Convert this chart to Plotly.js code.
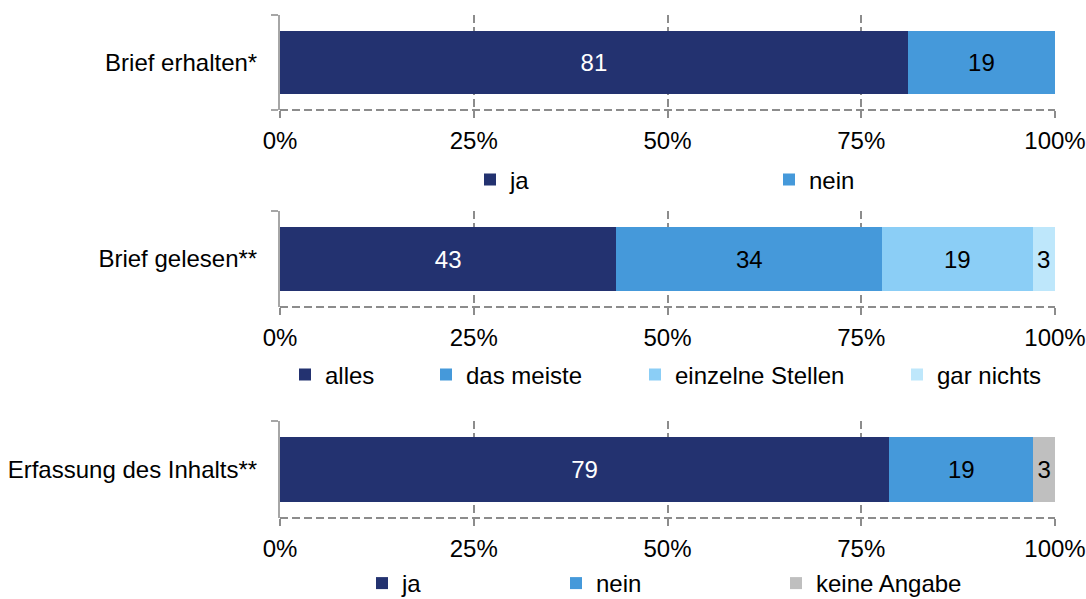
<!DOCTYPE html>
<html>
<head>
<meta charset="utf-8">
<script src="https://cdn.plot.ly/plotly-3.0.1.min.js"></script>
<style>html,body{margin:0;padding:0;background:#fff;}#chart{width:1086px;height:599px;}</style>
</head>
<body>
<div id="chart"></div>
<script>
// ---- data ----
const cat1 = ['Brief erhalten*'];
const names1 = ['ja', 'nein'];
const values1 = [81, 19];
const colors1 = ['#233270', '#4599DA'];

const cat2 = ['Brief gelesen**'];
const names2 = ['alles', 'das meiste', 'einzelne Stellen', 'gar nichts'];
const values2 = [43.4, 34.3, 19.4, 2.9];
const colors2 = ['#233270', '#4599DA', '#8BCEF6', '#BEE7FB'];

const cat3 = ['Erfassung des Inhalts**'];
const names3 = ['ja', 'nein', 'keine Angabe'];
const values3 = [78.6, 18.6, 2.8];
const colors3 = ['#233270', '#4599DA', '#BFBFBF'];

const tickVals = [0, 25, 50, 75, 100];
const tickLabels = ['0%', '25%', '50%', '75%', '100%'];

// legend text start positions (px) and row placement (px)
const W = 1086, H = 599;
const legendTextX = [[507, 806], [322, 463, 672, 934], [399, 593, 813]];
const legendRowY = [180, 375, null];
const lastRowBottomPx = 7;

const FONT = 'Liberation Sans, Arial, sans-serif';
const FS = 24;
const GRAY = '#8c8c8c';

const groups = [
  {cat: cat1, names: names1, values: values1, colors: colors1},
  {cat: cat2, names: names2, values: values2, colors: colors2},
  {cat: cat3, names: names3, values: values3, colors: colors3}
];
const yDomains = [[0.8164, 0.975], [0.4875, 0.6477], [0.1352, 0.2972]];
const xDomain = [280 / W, 1055 / W];

const traces = [];
const layout = {
  width: W, height: H,
  margin: {l: 0, r: 0, t: 0, b: 0, autoexpand: false},
  paper_bgcolor: '#fff', plot_bgcolor: 'rgba(0,0,0,0)',
  barmode: 'stack',
  font: {family: FONT, size: FS, color: '#000'},
  shapes: []
};

let legendIdx = 0;
groups.forEach((g, gi) => {
  const xa = gi === 0 ? 'x' : 'x' + (gi + 1);
  const ya = gi === 0 ? 'y' : 'y' + (gi + 1);
  const xKey = gi === 0 ? 'xaxis' : 'xaxis' + (gi + 1);
  const yKey = gi === 0 ? 'yaxis' : 'yaxis' + (gi + 1);
  g.names.forEach((n, i) => {
    legendIdx++;
    const lgKey = legendIdx === 1 ? 'legend' : 'legend' + legendIdx;
    traces.push({
      type: 'bar', orientation: 'h',
      x: [g.values[i]], y: g.cat, name: n,
      xaxis: xa, yaxis: ya,
      marker: {color: g.colors[i], line: {width: 0}},
      width: 0.67,
      texttemplate: '%{x:.0f}', textposition: 'inside', insidetextanchor: 'middle',
      textangle: 0, constraintext: 'none',
      insidetextfont: {family: FONT, size: FS, color: i === 0 ? '#ffffff' : '#000000'},
      hoverinfo: 'skip',
      legend: lgKey, showlegend: true
    });
    const rowY = legendRowY[gi];
    layout[lgKey] = {
      x: (legendTextX[gi][i] - 37) / W, xanchor: 'left',
      y: rowY === null ? -lastRowBottomPx / H : (H - rowY) / H,
      yanchor: rowY === null ? 'bottom' : 'middle',
      orientation: 'h', bgcolor: 'rgba(0,0,0,0)', borderwidth: 0,
      font: {family: FONT, size: FS, color: '#000'},
      itemclick: false, itemdoubleclick: false
    };
  });
  layout[xKey] = {
    domain: xDomain, anchor: ya, range: [0, 100],
    tickmode: 'array', tickvals: tickVals, ticktext: tickLabels,
    showgrid: true, gridcolor: GRAY, gridwidth: 2, griddash: '8px,4px',
    zeroline: false, showline: false,
    ticks: 'outside', ticklen: 7, tickwidth: 2, tickcolor: GRAY,
    tickfont: {family: FONT, size: FS, color: '#000'},
    ticklabelstandoff: 2,
    fixedrange: true
  };
  layout[yKey] = {
    domain: yDomains[gi], anchor: xa, type: 'category',
    showline: true, linecolor: '#a6a6a6', linewidth: 2,
    ticks: 'outside', tickson: 'boundaries', ticklen: 7, tickwidth: 2, tickcolor: '#a6a6a6',
    showgrid: false, zeroline: false,
    tickfont: {family: FONT, size: FS, color: '#000'},
    ticklabelstandoff: 16,
    fixedrange: true
  };
  layout.shapes.push({
    type: 'line', xref: xa + ' domain', yref: ya + ' domain',
    x0: 0, x1: 1, y0: 0, y1: 0,
    line: {color: GRAY, width: 2, dash: '8px,4px'}, layer: 'below'
  });
});

Plotly.newPlot('chart', traces, layout, {displayModeBar: false, staticPlot: true});
</script>
</body>
</html>
